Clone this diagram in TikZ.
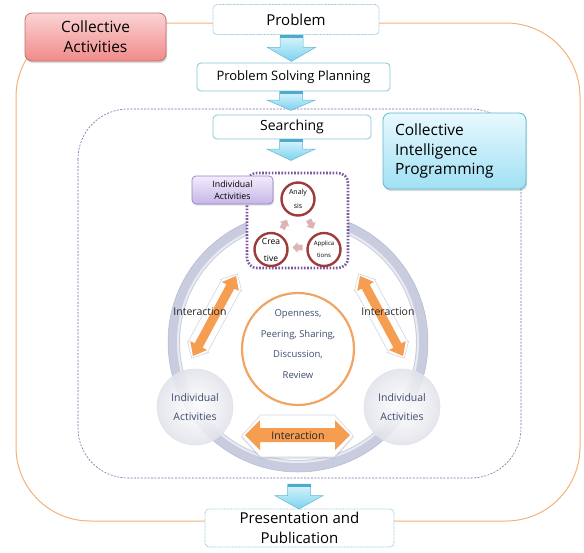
\documentclass[tikz,border=0pt]{standalone}
\usepackage{fontspec}
\setmainfont{Open Sans}
\usetikzlibrary{calc,shadows}

\definecolor{outerline}{HTML}{F2B27A}
\definecolor{regionline}{HTML}{7A6AA8}
\definecolor{boxline}{HTML}{86C6D6}
\definecolor{arrtoptint}{HTML}{D9F5FD}
\definecolor{arrbottint}{HTML}{7DD2EE}
\definecolor{arredge}{HTML}{62B8D4}
\definecolor{arrband}{HTML}{4FA9CB}
\definecolor{pinktop}{HTML}{FBD3D3}
\definecolor{pinkbot}{HTML}{F08A8A}
\definecolor{pinkedge}{HTML}{C46E6E}
\definecolor{cyantop}{HTML}{E8F9FE}
\definecolor{cyanbot}{HTML}{A0E0F4}
\definecolor{cyanedge}{HTML}{5DB6CF}
\definecolor{ringgray}{HTML}{C9CCDF}
\definecolor{ringedge}{HTML}{B5B9D0}
\definecolor{hubline}{HTML}{F2A463}
\definecolor{orangearr}{HTML}{F59D50}
\definecolor{slatetext}{HTML}{3E4C6E}
\definecolor{dotpurple}{HTML}{7B55A0}
\definecolor{lavtop}{HTML}{F2ECFC}
\definecolor{lavbot}{HTML}{C7B5E8}
\definecolor{lavedge}{HTML}{9683C2}
\definecolor{stepred}{HTML}{9E3B3B}
\definecolor{cyclepink}{HTML}{DDB3B3}
\definecolor{backedge}{HTML}{D3D5E0}
\definecolor{memberedge}{HTML}{E2E3EA}

% double-headed block arrow: style, centre, angle, half length, half shaft, half head, head length
\newcommand\dblblock[7]{%
  \path[#1,shift={#2},rotate=#3]
    (-#4,0) -- ({-#4+#7},#6) -- ({-#4+#7},#5) -- ({#4-#7},#5) -- ({#4-#7},#6) -- (#4,0)
    -- ({#4-#7},-#6) -- ({#4-#7},-#5) -- ({-#4+#7},-#5) -- ({-#4+#7},-#6) -- cycle;}

% single-headed block arrow pointing along +x: style, centre, angle
\newcommand\cyclearrow[3]{%
  \path[#1,shift={#2},rotate=#3]
    (-5,2.8) -- (0,2.8) -- (0,5.2) -- (5,0) -- (0,-5.2) -- (0,-2.8) -- (-5,-2.8) -- cycle;}

\tikzset{
  blockdown/.pic={
    \path[top color=arrtoptint, bottom color=arrbottint, draw=arredge, line width=0.5pt]
      (-11.5,0) -- (11.5,0) -- (11.5,-12) -- (24,-12) -- (0,-26) -- (-24,-12) -- (-11.5,-12) -- cycle;
    \fill[arrband] (-11.5,0) rectangle (11.5,-3);
  },
  flowbox/.style={draw=boxline, line width=0.8pt, fill=white, rounded corners=4pt,
    inner sep=0pt, align=center},
  dottedbox/.style={flowbox, dash pattern=on 0.7pt off 0.7pt},
  tagbox/.style={rounded corners=7pt, line width=0.8pt, inner sep=0pt,
    drop shadow={shadow xshift=1pt, shadow yshift=-2pt, opacity=0.3}},
  stepcircle/.style={circle, draw=stepred, line width=2.4pt, fill=white,
    minimum size=33pt, inner sep=0pt, align=center},
  member/.style={circle, minimum size=76pt, inner sep=0pt, align=center,
    text=slatetext, font=\fontsize{10.5}{19}\selectfont},
  interlabel/.style={font=\fontsize{10.5}{12}\selectfont, text=black!85},
  backing/.style={fill=white, draw=backedge, line width=0.6pt},
  orangefill/.style={fill=orangearr}
}

\begin{document}
\begin{tikzpicture}[x=1pt,y=1pt]
\useasboundingbox (0,0) rectangle (584,-552);

% outer frame of the collective activities
\draw[outerline, line width=1pt, rounded corners=74pt] (16,-23) rectangle (580,-521);

% region of collective intelligence programming
\draw[regionline, line width=0.6pt, dash pattern=on 2pt off 1.4pt, rounded corners=50pt]
  (78,-109) rectangle (521,-478);

% process boxes
\node[dottedbox, minimum width=166pt, minimum height=30pt,
      font=\fontsize{15}{18}\selectfont] (prob) at (296,-19.5) {Problem};
\node[flowbox, minimum width=193pt, minimum height=28pt,
      font=\fontsize{13}{16}\selectfont] (plan) at (293.5,-77) {Problem Solving Planning};
\node[flowbox, minimum width=158pt, minimum height=24pt,
      font=\fontsize{14}{17}\selectfont] (srch) at (292,-127) {Searching};
\node[dottedbox, minimum width=189pt, minimum height=38pt,
      font=\fontsize{15}{20}\selectfont] (pres) at (299.5,-528) {Presentation and\\Publication};

% block arrows between the process steps
\pic at ($(prob.south)+(-4.5,-0.5)$) {blockdown};
\pic[yscale=0.73] at ($(plan.south)+(-2.5,0)$) {blockdown};
\pic[yscale=0.81] at ($(srch.south)+(-1,0)$) {blockdown};
\pic[yscale=0.96] at ($(pres.north)+(-0.5,24.5)$) {blockdown};

% tags
\node[tagbox, top color=pinktop, bottom color=pinkbot, draw=pinkedge,
      minimum width=141pt, minimum height=48pt, align=center,
      font=\fontsize{15.5}{20}\selectfont] (coll) at (95.5,-37) {Collective\\Activities};
\node[tagbox, top color=cyantop, bottom color=cyanbot, draw=cyanedge,
      minimum width=143pt, minimum height=76pt, inner xsep=12pt, text width=119pt, align=left,
      font=\fontsize{15.5}{19.5}\selectfont] (cip) at (454.5,-151)
      {Collective\\Intelligence\\Programming};

% interaction ring
\draw[ringgray, line width=12pt] (298,-342) circle (124);
\draw[ringedge, line width=0.5pt] (298,-342) circle (130);
\draw[white, opacity=0.6, line width=2pt] (298,-342) circle (120);

% shared core of the ring
\node[circle, draw=hubline, line width=2.2pt, fill=white, minimum size=112pt, inner sep=0pt]
  (hub) at (298,-349) {};
\node[align=center, text=slatetext, font=\fontsize{9.5}{20.7}\selectfont] at (298,-344)
  {Openness,\\Peering, Sharing,\\Discussion,\\Review};

% individual members on the ring
\foreach \px in {195, 402}{
  \shade[inner color=white, outer color=memberedge, opacity=0.88] (\px,-407) circle (38);
  \draw[memberedge, line width=0.6pt] (\px,-407) circle (38);
}
\node[member] (indl) at (195,-407.5) {Individual\\Activities};
\node[member] (indr) at (402,-407.5) {Individual\\Activities};

% interaction arrows with their white backings
\dblblock{backing}{(214.5,-316)}{61.7}{48}{11}{12}{13}
\dblblock{backing}{(381.5,-316)}{-61.7}{48}{11}{12}{13}
\dblblock{backing, drop shadow={shadow xshift=0pt, shadow yshift=-1.5pt, opacity=0.25}}
  {(297.5,-436)}{0}{56}{21}{21}{19}
\dblblock{orangefill}{(214.5,-316)}{61.7}{45.5}{4.5}{9.5}{12}
\dblblock{orangefill}{(381.5,-316)}{-61.7}{45.5}{4.5}{9.5}{12}
\dblblock{orangefill}{(297.5,-435)}{0}{52.5}{7}{15}{15}
\node[interlabel] at (200,-312) {Interaction};
\node[interlabel] at (388,-312) {Interaction};
\node[interlabel] at (298,-436) {Interaction};

% individual work cycle
\draw[dotpurple, line width=2.6pt, dash pattern=on 1.6pt off 1.6pt, rounded corners=10pt, fill=white]
  (247,-173) rectangle (348,-268);
\node[stepcircle, font=\fontsize{7}{14}\selectfont] (ana) at (298,-199) {Analy\\sis};
\node[stepcircle, font=\fontsize{8.5}{17}\selectfont] (cre) at (271,-249.5) {Crea\\tive};
\node[stepcircle, font=\fontsize{6}{12}\selectfont] (app) at (324,-249.5) {Applica\\tions};
\cyclearrow{fill=cyclepink}{($(cre)!0.5!(ana)$)}{62}
\cyclearrow{fill=cyclepink}{($(ana)!0.5!(app)$)}{-62}
\cyclearrow{fill=cyclepink}{($(app)!0.5!(cre)+(0,2)$)}{180}

\node[rounded corners=4pt, top color=lavtop, bottom color=lavbot, draw=lavedge, line width=0.7pt,
      minimum width=81pt, minimum height=28pt, inner sep=0pt, align=center,
      drop shadow={shadow xshift=1pt, shadow yshift=-1.5pt, opacity=0.25},
      font=\fontsize{8.8}{12}\selectfont] (solo) at (232.5,-190) {Individual\\Activities};
\end{tikzpicture}
\end{document}
